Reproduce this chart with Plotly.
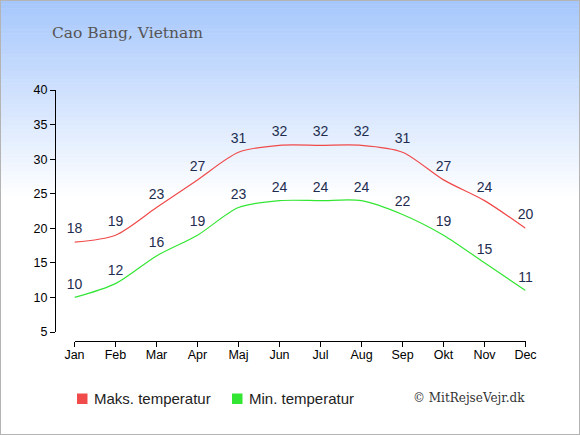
import plotly.graph_objects as go

months = ["Jan", "Feb", "Mar", "Apr", "Maj", "Jun", "Jul", "Aug", "Sep", "Okt", "Nov", "Dec"]
max_temp = [18, 19, 23, 27, 31, 32, 32, 32, 31, 27, 24, 20]
min_temp = [10, 12, 16, 19, 23, 24, 24, 24, 22, 19, 15, 11]
y_ticks = [5, 10, 15, 20, 25, 30, 35, 40]
series_names = ["Maks. temperatur", "Min. temperatur"]

W, H = 580, 435
red = "#f04a4a"
green = "#33e633"
label_col = "#1e2d4f"


def px_x(p):
    return p / W


def px_y(p):
    return 1 - p / H


fig = go.Figure()

# line traces with value labels (invisible markers push the labels up a bit)
for name, vals, col in [(series_names[0], max_temp, red), (series_names[1], min_temp, green)]:
    fig.add_trace(go.Scatter(
        x=months, y=vals, mode="lines+markers+text", name=name,
        line=dict(color=col, width=1.2, shape="spline", smoothing=0.8),
        marker=dict(size=7, color="rgba(0,0,0,0)"),
        text=[str(v) for v in vals], textposition="top center",
        textfont=dict(family="Liberation Sans, Arial", size=14, color=label_col),
        cliponaxis=False, showlegend=False, hoverinfo="skip",
    ))

# gradient background (light blue -> white)
top = (166, 199, 252)
n = 48
g_end = 200
shapes = []
for i in range(n):
    t = i / (n - 1)
    c = tuple(int(round(top[k] + (255 - top[k]) * t)) for k in range(3))
    y0 = i * g_end / n
    y1 = (i + 1) * g_end / n + 0.5
    shapes.append(dict(type="rect", xref="paper", yref="paper", layer="below",
                       x0=0, x1=1, y0=px_y(y1), y1=px_y(y0),
                       line=dict(width=0), fillcolor="rgb(%d,%d,%d)" % c))
shapes.append(dict(type="rect", xref="paper", yref="paper", layer="above",
                   x0=0, x1=1, y0=0, y1=1,
                   line=dict(width=2, color="#b4b4b4"), fillcolor="rgba(0,0,0,0)"))

# hand-made legend: squares + labels
annotations = []
for name, col, sx, tx in [(series_names[0], red, 77, 93), (series_names[1], green, 232, 248)]:
    shapes.append(dict(type="rect", xref="paper", yref="paper",
                       x0=px_x(sx), x1=px_x(sx + 10.5), y0=px_y(404), y1=px_y(393.5),
                       line=dict(width=0), fillcolor=col))
    annotations.append(dict(text=name, xref="paper", yref="paper",
                            x=px_x(tx), y=px_y(398.5), xanchor="left", yanchor="middle",
                            showarrow=False, xshift=-1,
                            font=dict(family="Liberation Sans, Arial", size=15, color="#222222")))

annotations += [
    dict(text="Cao Bang, Vietnam", xref="paper", yref="paper",
         x=px_x(50), y=px_y(33), xanchor="left", yanchor="middle", showarrow=False,
         font=dict(family="DejaVu Serif", size=15.5, color="#555555")),
    dict(text="© MitRejseVejr.dk", xref="paper", yref="paper",
         x=px_x(527), y=px_y(398), xanchor="right", yanchor="middle", showarrow=False,
         font=dict(family="DejaVu Serif", size=12, color="#333333")),
]

fig.update_layout(
    width=W, height=H,
    margin=dict(l=0, r=0, t=0, b=0, autoexpand=False),
    paper_bgcolor="white", plot_bgcolor="rgba(0,0,0,0)",
    shapes=shapes, annotations=annotations, showlegend=False,
    font=dict(family="Liberation Sans, Arial", color="black"),
    xaxis=dict(
        domain=[px_x(74.5), px_x(525.5)], range=[0, 11],
        anchor="free", position=px_y(341), automargin=False,
        showline=True, linecolor="black", linewidth=1,
        ticks="outside", ticklen=5, tickcolor="black",
        showgrid=False, zeroline=False, ticklabelstandoff=-3,
        tickfont=dict(size=12.5), fixedrange=True,
    ),
    yaxis=dict(
        domain=[px_y(332), px_y(90)], range=[5, 40],
        anchor="free", position=px_x(55), automargin=False,
        tickvals=y_ticks,
        showline=True, linecolor="black", linewidth=1,
        ticks="outside", ticklen=5, tickcolor="black",
        showgrid=False, zeroline=False,
        tickfont=dict(size=12.5), fixedrange=True,
    ),
)

fig.write_html("out.html", config={"displayModeBar": False},
               post_script="document.body.style.margin='0';document.body.style.overflow='hidden';")
